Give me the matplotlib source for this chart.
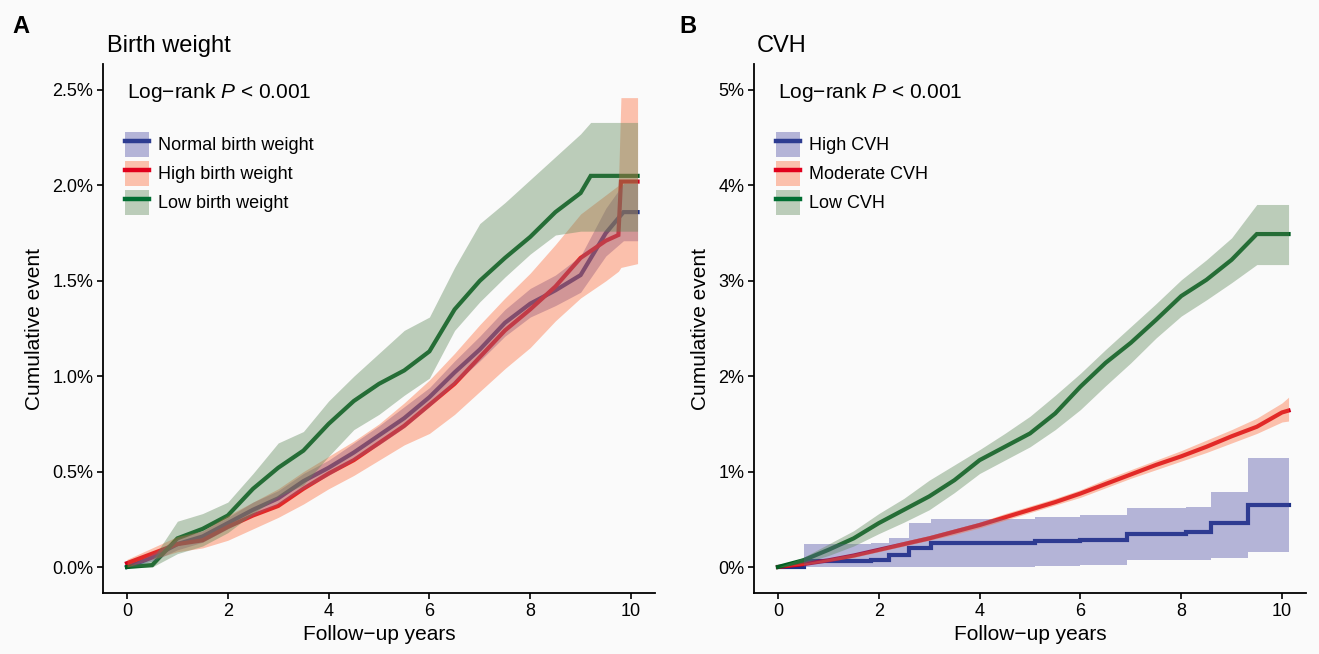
import matplotlib
matplotlib.use('Agg')
import matplotlib.pyplot as plt
from matplotlib.patches import Patch
from matplotlib.lines import Line2D

plt.rcParams['font.family'] = ['Liberation Sans', 'DejaVu Sans']
plt.rcParams['mathtext.fontset'] = 'custom'
plt.rcParams['mathtext.rm'] = 'Liberation Sans'
plt.rcParams['mathtext.it'] = 'Liberation Sans:italic'

BG = '#fafafa'

# ---------------- panel A: birth weight (cumulative event, %) ----------------
a_normal_t = [0, 0.5, 1, 1.5, 2, 2.5, 3, 3.5, 4, 4.5, 5, 5.5, 6, 6.5, 7, 7.5, 8, 8.5, 9, 9.5, 9.85, 10.13]
a_normal = [0.00, 0.05, 0.12, 0.16, 0.23, 0.30, 0.36, 0.45, 0.52, 0.60, 0.69, 0.78, 0.89, 1.02, 1.14, 1.28, 1.38, 1.45, 1.53, 1.75, 1.86, 1.86]
a_normal_lo = [0.00, 0.03, 0.09, 0.13, 0.20, 0.27, 0.33, 0.41, 0.48, 0.56, 0.64, 0.73, 0.84, 0.96, 1.08, 1.21, 1.31, 1.37, 1.44, 1.63, 1.71, 1.71]
a_normal_hi = [0.00, 0.07, 0.15, 0.19, 0.26, 0.34, 0.40, 0.49, 0.56, 0.65, 0.74, 0.84, 0.94, 1.08, 1.21, 1.35, 1.46, 1.53, 1.63, 1.88, 2.01, 2.01]

a_high_t = [0, 0.5, 1, 1.5, 2, 2.5, 3, 3.5, 4, 4.5, 5, 5.5, 6, 6.5, 7, 7.5, 8, 8.5, 9, 9.5, 9.75, 9.8, 10.13]
a_high = [0.02, 0.07, 0.12, 0.14, 0.21, 0.27, 0.32, 0.41, 0.49, 0.56, 0.65, 0.74, 0.85, 0.96, 1.10, 1.24, 1.35, 1.47, 1.62, 1.71, 1.74, 2.02, 2.02]
a_high_lo = [0.00, 0.04, 0.08, 0.10, 0.14, 0.20, 0.26, 0.33, 0.41, 0.48, 0.56, 0.64, 0.70, 0.80, 0.92, 1.04, 1.15, 1.29, 1.41, 1.50, 1.55, 1.57, 1.59]
a_high_hi = [0.04, 0.10, 0.16, 0.19, 0.27, 0.34, 0.41, 0.50, 0.58, 0.66, 0.75, 0.86, 0.98, 1.12, 1.27, 1.41, 1.54, 1.69, 1.85, 1.95, 2.00, 2.46, 2.46]

a_low_t = [0, 0.5, 1, 1.5, 2, 2.5, 3, 3.5, 4, 4.5, 5, 5.5, 6, 6.5, 7, 7.5, 8, 8.5, 9, 9.2, 10.13]
a_low = [0.00, 0.01, 0.15, 0.20, 0.27, 0.41, 0.52, 0.61, 0.75, 0.87, 0.96, 1.03, 1.13, 1.35, 1.50, 1.62, 1.73, 1.86, 1.96, 2.05, 2.05]
a_low_lo = [0.00, 0.00, 0.07, 0.11, 0.18, 0.28, 0.37, 0.43, 0.58, 0.72, 0.80, 0.90, 0.99, 1.24, 1.39, 1.52, 1.64, 1.74, 1.76, 1.76, 1.76]
a_low_hi = [0.00, 0.04, 0.24, 0.28, 0.34, 0.49, 0.65, 0.71, 0.87, 1.00, 1.12, 1.24, 1.31, 1.57, 1.80, 1.91, 2.03, 2.15, 2.27, 2.33, 2.33]

# ---------------- panel B: CVH ----------------
b_high_t = [0, 0.52, 1.85, 2.2, 2.6, 3.03, 5.1, 6.0, 6.93, 8.1, 8.6, 9.33, 10.13]
b_high = [0.00, 0.06, 0.07, 0.13, 0.20, 0.25, 0.27, 0.28, 0.35, 0.37, 0.46, 0.65, 0.65]
b_high_lo = [0.00, 0.00, 0.00, 0.00, 0.00, 0.00, 0.01, 0.02, 0.07, 0.07, 0.09, 0.16, 0.16]
b_high_hi = [0.00, 0.24, 0.25, 0.30, 0.46, 0.50, 0.52, 0.55, 0.62, 0.63, 0.79, 1.14, 1.14]

b_mod_t = [0, 0.5, 1, 1.5, 2, 2.5, 3, 3.5, 4, 4.5, 5, 5.5, 6, 6.5, 7, 7.5, 8, 8.5, 9, 9.5, 10, 10.13]
b_mod = [0.00, 0.03, 0.07, 0.12, 0.18, 0.24, 0.30, 0.37, 0.44, 0.52, 0.60, 0.68, 0.77, 0.87, 0.97, 1.07, 1.16, 1.26, 1.37, 1.47, 1.62, 1.64]
b_mod_lo = [0.00, 0.02, 0.06, 0.10, 0.16, 0.22, 0.28, 0.34, 0.41, 0.49, 0.57, 0.65, 0.73, 0.83, 0.93, 1.02, 1.11, 1.20, 1.30, 1.40, 1.52, 1.53]
b_mod_hi = [0.00, 0.04, 0.09, 0.14, 0.20, 0.27, 0.33, 0.40, 0.47, 0.56, 0.64, 0.72, 0.81, 0.92, 1.02, 1.12, 1.22, 1.33, 1.44, 1.56, 1.72, 1.78]

b_low_t = [0, 0.5, 1, 1.5, 2, 2.5, 3, 3.5, 4, 4.5, 5, 5.5, 6, 6.5, 7, 7.5, 8, 8.5, 9, 9.5, 10.13]
b_low = [0.00, 0.07, 0.18, 0.30, 0.46, 0.60, 0.74, 0.91, 1.12, 1.26, 1.40, 1.61, 1.89, 2.14, 2.35, 2.59, 2.84, 3.01, 3.22, 3.49, 3.49]
b_low_lo = [0.00, 0.04, 0.12, 0.22, 0.35, 0.47, 0.60, 0.78, 0.98, 1.12, 1.26, 1.44, 1.65, 1.90, 2.14, 2.40, 2.63, 2.80, 2.98, 3.17, 3.17]
b_low_hi = [0.00, 0.10, 0.24, 0.38, 0.56, 0.72, 0.91, 1.07, 1.23, 1.40, 1.58, 1.80, 2.03, 2.28, 2.52, 2.76, 3.01, 3.22, 3.45, 3.80, 3.80]

a_labels = ['Normal birth weight', 'High birth weight', 'Low birth weight']
b_labels = ['High CVH', 'Moderate CVH', 'Low CVH']
a_yticks = [0, 0.5, 1.0, 1.5, 2.0, 2.5]
a_yticklabels = ['0.0%', '0.5%', '1.0%', '1.5%', '2.0%', '2.5%']
b_yticks = [0, 1, 2, 3, 4, 5]
b_yticklabels = ['0%', '1%', '2%', '3%', '4%', '5%']
xticks = [0, 2, 4, 6, 8, 10]

# lines sit under the ribbons, so they are drawn a bit darker than they show
line_cols = ['#1c3186', '#d0001e', '#005d20']
legend_line_cols = ['#2d3c91', '#e1001c', '#006e32']
band_cols = ['#4b4ba3', '#ff6937', '#5d8758']
BAND_ALPHA = 0.4


def panel(ax, curves, labels, yticks, yticklabels, ymax):
    ax.set_facecolor(BG)
    # lines first, ribbons drawn over them (as survminer does)
    for (t, est, lo, hi, step), col in zip(curves, line_cols):
        ds = 'steps-post' if step else 'default'
        ax.plot(t, est, color=col, lw=3.0, drawstyle=ds, zorder=2,
                solid_joinstyle='miter')
    for (t, est, lo, hi, step), col in zip(curves, band_cols):
        ax.fill_between(t, lo, hi, step='post' if step else None,
                        color=col, alpha=BAND_ALPHA, lw=0, zorder=3)

    pad = ymax * 0.0545
    ax.set_xlim(-0.476, 10.476)
    ax.set_ylim(-pad, ymax + pad)
    ax.set_xticks(xticks)
    ax.set_yticks(yticks)
    ax.set_yticklabels(yticklabels)
    for s in ['top', 'right']:
        ax.spines[s].set_visible(False)
    for s in ['left', 'bottom']:
        ax.spines[s].set_linewidth(1.3)
    ax.tick_params(length=4, width=1.2, labelsize=13, colors='black', pad=3)
    ax.set_xlabel('Follow\u2212up years', fontsize=15, labelpad=4)
    ax.set_ylabel('Cumulative event', fontsize=15, labelpad=6)
    ax.text(0.0435, 0.935, 'Log\u2212rank $\\it{P}$ < 0.001', transform=ax.transAxes,
            fontsize=15, va='baseline', ha='left')

    handles = []
    for lc, bc in zip(legend_line_cols, band_cols):
        handles.append((Patch(facecolor=bc, alpha=BAND_ALPHA, lw=0),
                        Line2D([], [], color=lc, lw=3.2)))
    ax.legend(handles, labels, loc='upper left', bbox_to_anchor=(0.04, 0.872),
              frameon=False, fontsize=13, handlelength=1.3, handleheight=1.75,
              labelspacing=0.22, handletextpad=0.55, borderpad=0, borderaxespad=0)


fig = plt.figure(figsize=(13.19, 6.54), dpi=100, facecolor=BG)
axA = fig.add_axes([103 / 1319, 61 / 654, 552 / 1319, 529 / 654])
axB = fig.add_axes([754 / 1319, 61 / 654, 552 / 1319, 529 / 654])

panel(axA, [(a_normal_t, a_normal, a_normal_lo, a_normal_hi, False),
            (a_high_t, a_high, a_high_lo, a_high_hi, False),
            (a_low_t, a_low, a_low_lo, a_low_hi, False)],
      a_labels, a_yticks, a_yticklabels, 2.5)
panel(axB, [(b_high_t, b_high, b_high_lo, b_high_hi, True),
            (b_mod_t, b_mod, b_mod_lo, b_mod_hi, False),
            (b_low_t, b_low, b_low_lo, b_low_hi, False)],
      b_labels, b_yticks, b_yticklabels, 5)

fig.text(12 / 1319, 1 - 33 / 654, 'A', fontsize=17, fontweight='bold', va='baseline')
fig.text(107 / 1319, 1 - 52 / 654, 'Birth weight', fontsize=17, va='baseline')
fig.text(679 / 1319, 1 - 33 / 654, 'B', fontsize=17, fontweight='bold', va='baseline')
fig.text(757 / 1319, 1 - 52 / 654, 'CVH', fontsize=17, va='baseline')

fig.savefig('out.png', dpi=100, facecolor=BG)
